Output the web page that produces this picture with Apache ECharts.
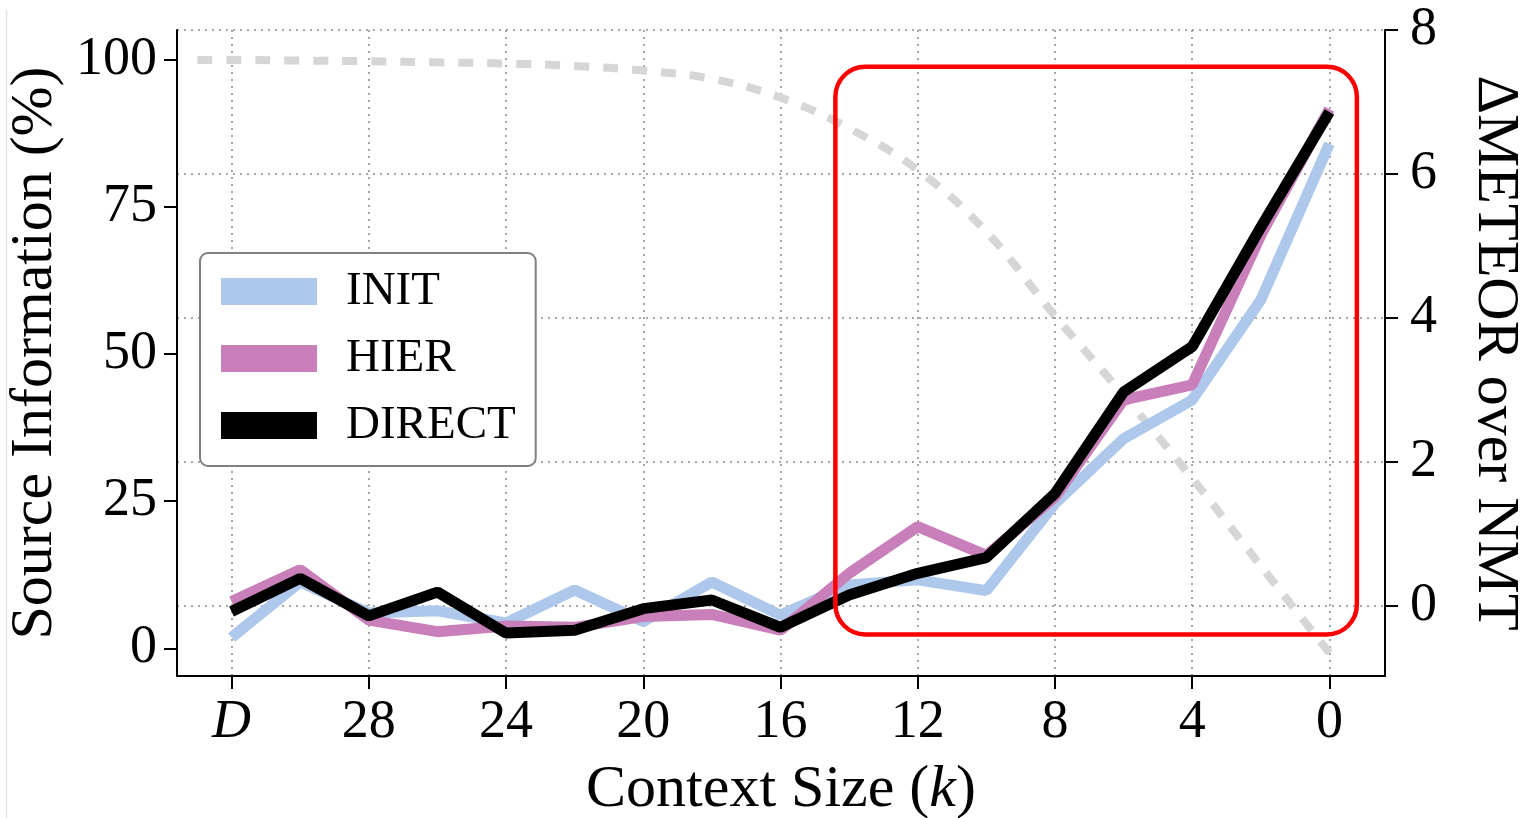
<!DOCTYPE html>
<html>
<head>
<meta charset="utf-8">
<script src="https://cdn.jsdelivr.net/npm/echarts@6/dist/echarts.min.js"></script>
<style>
html,body{margin:0;padding:0;background:#fff;}
#chart{width:1523px;height:818px;}
</style>
</head>
<body>
<div id="chart"></div>
<script>
// Context sizes (32 stands for the full document "D")
const contextSizes = [32, 30, 28, 26, 24, 22, 20, 18, 16, 14, 12, 10, 8, 6, 4, 2, 0];
const initDelta   = [-0.44, 0.33, -0.10, -0.07, -0.24, 0.22, -0.22, 0.33, -0.13, 0.29, 0.36, 0.21, 1.42, 2.32, 2.86, 4.25, 6.42];
const hierDelta   = [0.06, 0.50, -0.20, -0.36, -0.28, -0.30, -0.15, -0.12, -0.34, 0.45, 1.10, 0.70, 1.51, 2.86, 3.07, 5.15, 6.90];
const directDelta = [-0.08, 0.38, -0.14, 0.19, -0.38, -0.34, -0.04, 0.08, -0.30, 0.15, 0.45, 0.67, 1.56, 2.97, 3.60, 5.26, 6.86];
// Source information curve (left axis, %)
const sourceX    = [33, 32, 30, 28, 26, 24, 22, 20, 18, 16, 14, 12, 10, 8, 6, 4, 2, 0];
const sourceInfo = [100, 100, 99.9, 99.8, 99.6, 99.4, 99.0, 98.2, 96.8, 93.6, 88.4, 81.3, 70.8, 56.5, 43.0, 28.9, 14.0, -0.8];
// Tick values / labels
const xTickValues = [32, 28, 24, 20, 16, 12, 8, 4, 0];
const xTickLabels = ['D', '28', '24', '20', '16', '12', '8', '4', '0'];
const leftTicks  = [0, 25, 50, 75, 100];
const rightTicks = [0, 2, 4, 6, 8];
// Highlighted region (x from/to in context size, y from/to in ΔMETEOR)
const highlightX = [14.4, -0.8];
const highlightY = [7.49, -0.40];

const FONT = 'Liberation Serif';
const COLORS = { INIT: '#aec8ec', HIER: '#c97fba', DIRECT: '#000000' };

function pairs(xs, ys) { return xs.map((x, i) => [x, ys[i]]); }

const chart = echarts.init(document.getElementById('chart'), null, { renderer: 'canvas' });

const gridDot = { show: true, lineStyle: { color: '#a6a6a6', width: 2, type: [2, 5] } };

const option = {
  animation: false,
  backgroundColor: '#ffffff',
  textStyle: { fontFamily: FONT },
  grid: { left: 177, right: 138, top: 30, bottom: 142, containLabel: false, outerBoundsMode: 'none' },
  xAxis: {
    type: 'value', inverse: true, min: -1.62, max: 33.59,
    axisLine: { show: true, onZero: false, lineStyle: { color: '#000', width: 2 } },
    axisTick: { show: true, customValues: xTickValues, length: 13, inside: false, lineStyle: { color: '#000', width: 2 } },
    axisLabel: {
      customValues: xTickValues, margin: 20, color: '#000', fontFamily: FONT, fontSize: 54,
      formatter: function (v) { const i = xTickValues.indexOf(v); const s = i >= 0 ? xTickLabels[i] : ''; return s === 'D' ? '{i|D}' : s; },
      rich: { i: { fontStyle: 'italic', fontFamily: FONT, fontSize: 54, color: '#000' } }
    },
    splitLine: gridDot,
    name: 'Context Size ({i|k})', nameLocation: 'middle', nameGap: 84,
    nameTextStyle: { fontFamily: FONT, fontSize: 60, color: '#000', rich: { i: { fontStyle: 'italic', fontFamily: FONT, fontSize: 60, color: '#000' } } }
  },
  yAxis: [
    {
      type: 'value', position: 'left', min: -4.71, max: 105.1,
      axisLine: { show: true, onZero: false, lineStyle: { color: '#000', width: 2 } },
      axisTick: { show: true, customValues: leftTicks, length: 13, lineStyle: { color: '#000', width: 2 } },
      axisLabel: { customValues: leftTicks, margin: 20, color: '#000', fontFamily: FONT, fontSize: 54 },
      splitLine: { show: false },
      name: 'Source Information (%)', nameLocation: 'middle', nameGap: 107, nameRotate: 90,
      nameTextStyle: { fontFamily: FONT, fontSize: 60, color: '#000' }
    },
    {
      type: 'value', position: 'right', min: -0.976, max: 8,
      axisLine: { show: true, onZero: false, lineStyle: { color: '#000', width: 2 } },
      axisTick: { show: true, customValues: rightTicks, length: 13, lineStyle: { color: '#000', width: 2 } },
      axisLabel: { customValues: rightTicks, margin: 25, color: '#000', fontFamily: FONT, fontSize: 54 },
      splitLine: gridDot,
      name: 'ΔMETEOR over NMT', nameLocation: 'middle', nameGap: 80, nameRotate: -90,
      nameTextStyle: { fontFamily: FONT, fontSize: 60, color: '#000' }
    }
  ],
  legend: {
    orient: 'vertical', left: 200, top: 253,
    padding: [15, 20, 17, 21], itemGap: 20,
    itemWidth: 96, itemHeight: 27,
    backgroundColor: '#fff', borderColor: '#808080', borderWidth: 2, borderRadius: 8,
    textStyle: { fontFamily: FONT, fontSize: 47, color: '#000', lineHeight: 46, padding: [0, 0, 0, 24] },
    data: [
      { name: 'INIT', icon: 'rect', itemStyle: { color: COLORS.INIT } },
      { name: 'HIER', icon: 'rect', itemStyle: { color: COLORS.HIER } },
      { name: 'DIRECT', icon: 'rect', itemStyle: { color: COLORS.DIRECT } }
    ]
  },
  series: [
    {
      name: 'Source', type: 'line', yAxisIndex: 0, data: pairs(sourceX, sourceInfo),
      showSymbol: false, symbol: 'none', smooth: 0.4, silent: true,
      lineStyle: { color: '#d6d6d6', width: 8, type: [15, 14] }, z: 1
    },
    {
      name: 'INIT', type: 'line', yAxisIndex: 1, data: pairs(contextSizes, initDelta),
      showSymbol: false, symbol: 'none', itemStyle: { color: COLORS.INIT },
      lineStyle: { color: COLORS.INIT, width: 11 }, z: 2
    },
    {
      name: 'HIER', type: 'line', yAxisIndex: 1, data: pairs(contextSizes, hierDelta),
      showSymbol: false, symbol: 'none', itemStyle: { color: COLORS.HIER },
      lineStyle: { color: COLORS.HIER, width: 11 }, z: 3
    },
    {
      name: 'DIRECT', type: 'line', yAxisIndex: 1, data: pairs(contextSizes, directDelta),
      showSymbol: false, symbol: 'none', itemStyle: { color: COLORS.DIRECT },
      lineStyle: { color: COLORS.DIRECT, width: 11 }, z: 4
    }
  ]
};

chart.setOption(option);

function drawBox() {
  const xa = chart.convertToPixel({ xAxisIndex: 0 }, highlightX[0]);
  const xb = chart.convertToPixel({ xAxisIndex: 0 }, highlightX[1]);
  const ya = chart.convertToPixel({ yAxisIndex: 1 }, highlightY[0]);
  const yb = chart.convertToPixel({ yAxisIndex: 1 }, highlightY[1]);
  chart.setOption({
    graphic: [
      {
        type: 'rect', z: 100,
        shape: { x: Math.min(xa, xb), y: Math.min(ya, yb), width: Math.abs(xb - xa), height: Math.abs(yb - ya), r: 30 },
        style: { fill: 'none', stroke: '#ff0000', lineWidth: 4.5 }
      },
      {
        type: 'line', z: 100,
        shape: { x1: 6.5, y1: 10, x2: 6.5, y2: 818 },
        style: { stroke: '#e2e2e2', lineWidth: 1.5 }
      }
    ]
  });
}
drawBox();
</script>
</body>
</html>
